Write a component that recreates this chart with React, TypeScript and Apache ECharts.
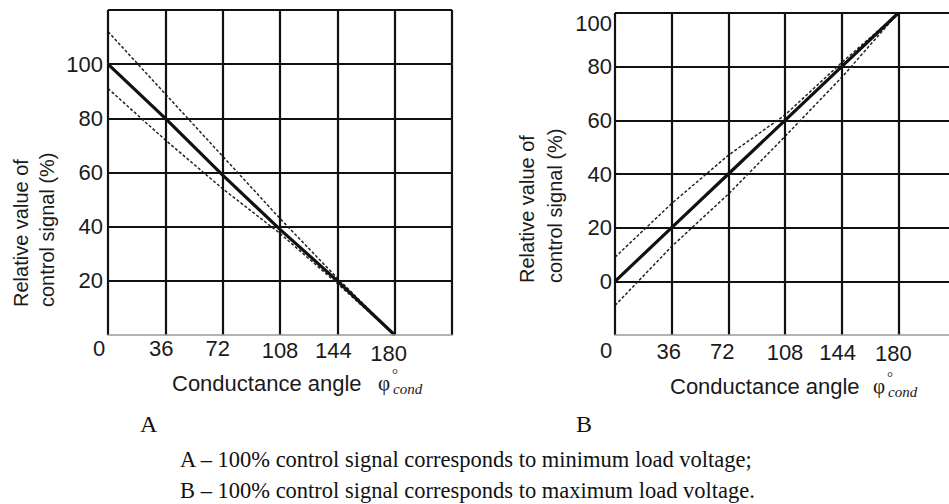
import React, { useEffect, useRef } from 'react';
import * as echarts from 'echarts';

// Conductance angle (degrees) at which values were read
const angleTicks = [0, 36, 72, 108, 144, 180];
// Chart A: 100% control signal -> minimum load voltage
const leftMain = [100, 80, 59, 39, 20, 0];
const leftUpper = [112, 89, 66, 43, 21, 0];
const leftLower = [91, 72, 54, 37.5, 19, 0];
// Chart B: 100% control signal -> maximum load voltage
const rightMain = [0, 20, 40, 60, 80, 100];
const rightUpper = [9, 29, 47, 62, 81.5, 100];
const rightLower = [-9, 13, 32.5, 54, 76, 100];
// Tick labels shown on the value axes
const leftYLabels = [20, 40, 60, 80, 100];
const rightYLabels = [0, 20, 40, 60, 80, 100];

const SANS = "'Liberation Sans', Arial, sans-serif";
const SERIF = "'Liberation Serif', 'Times New Roman', serif";

const zip = (xs: number[], ys: number[]) => xs.map((x, i) => [x, ys[i]]);

// per-label nudges (padding in px) for x tick labels: [top, right]
const xNudge: Record<number, [number, number]> = {
  0: [3, 18],
  36: [3, 8],
  72: [3, 10],
  108: [8, 0],
  144: [8, 8],
  180: [13, 12],
};
const xNudgeR: Record<number, [number, number]> = {
  0: [7, 18],
  36: [9, 6],
  72: [9, 12],
  108: [12, 0],
  144: [12, 8],
  180: [14, 10],
};

function xAxisFor(gridIndex: number, nudge: Record<number, [number, number]>) {
  const rich: Record<string, any> = {};
  angleTicks.forEach((t) => {
    rich['l' + t] = {
      fontSize: 22,
      fontFamily: SANS,
      color: '#1a1a1a',
      lineHeight: 23,
      padding: [nudge[t][0], nudge[t][1], 0, 0],
    };
  });
  return {
    type: 'value',
    gridIndex,
    min: 0,
    max: 216,
    interval: 36,
    z: 5,
    axisLine: { show: true, onZero: false, lineStyle: { color: '#9a9a9a', width: 1.5 } },
    axisTick: { show: false },
    splitLine: { show: true, lineStyle: { color: '#111', width: 2.2 } },
    axisLabel: {
      margin: 0,
      formatter: (v: number) => (angleTicks.includes(v) ? `{l${v}|${v}}` : ''),
      rich,
    },
  };
}

function yAxisFor(gridIndex: number, min: number, max: number, labels: number[], topShift: number) {
  return {
    type: 'value',
    gridIndex,
    min,
    max,
    interval: 20,
    axisLine: { show: false },
    axisTick: { show: false },
    splitLine: { show: true, showMinLine: false, lineStyle: { color: '#111', width: 2 } },
    axisLabel: {
      margin: gridIndex === 0 ? 5 : 3,
      formatter: (v: number) =>
        labels.includes(v) ? (v === 100 && topShift ? `{t|${v}}` : `{n|${v}}`) : '',
      rich: {
        n: { fontSize: 22, fontFamily: SANS, color: '#1a1a1a' },
        t: { fontSize: 22, fontFamily: SANS, color: '#1a1a1a', padding: [topShift, 0, 0, 0] },
      },
    },
  };
}

const solid = { color: '#111', width: 3.2 };
const dashed = { color: '#222', width: 1.5, type: [3, 2] as number[] };

function lineSeries(x: number, data: number[], style: any, z: number) {
  return {
    type: 'line',
    xAxisIndex: x,
    yAxisIndex: x,
    data: zip(angleTicks, data),
    symbol: 'none',
    z,
    lineStyle: style,
    silent: true,
  };
}

function yTitle(x1: number, x2: number, yBottom: number) {
  return [
    {
      type: 'text',
      x: x1,
      y: yBottom,
      rotation: Math.PI / 2,
      style: { text: 'Relative value of', font: `20px ${SANS}`, fill: '#1a1a1a', align: 'left', verticalAlign: 'middle' },
    },
    {
      type: 'text',
      x: x2,
      y: yBottom,
      rotation: Math.PI / 2,
      style: { text: 'control signal (%)', font: `20px ${SANS}`, fill: '#1a1a1a', align: 'left', verticalAlign: 'middle' },
    },
  ];
}

function xTitle(x: number, y: number, phiX: number) {
  return [
    {
      type: 'text',
      x,
      y,
      style: { text: 'Conductance angle', font: `22px ${SANS}`, fill: '#1a1a1a', align: 'left', verticalAlign: 'middle' },
    },
    {
      type: 'text',
      x: phiX,
      y: y,
      style: { text: 'φ', font: `21px ${SERIF}`, fill: '#1a1a1a', align: 'left', verticalAlign: 'middle' },
    },
    {
      type: 'text',
      x: phiX + 14,
      y: y - 9,
      style: { text: '°', font: `15px ${SERIF}`, fill: '#1a1a1a', align: 'left', verticalAlign: 'middle' },
    },
    {
      type: 'text',
      x: phiX + 15,
      y: y + 6,
      style: { text: 'cond', font: `italic 15px ${SERIF}`, fill: '#1a1a1a', align: 'left', verticalAlign: 'middle' },
    },
  ];
}

export default function App() {
  const ref = useRef<HTMLDivElement>(null);
  useEffect(() => {
    if (!ref.current) return;
    const chart = echarts.init(ref.current, null, { renderer: 'svg' });
    chart.setOption({
      animation: false,
      backgroundColor: '#ffffff',
      grid: [
        { left: 108, top: 10, right: 497, bottom: 169, outerBoundsMode: 'none', containLabel: false },
        { left: 615, top: 13, right: -6, bottom: 169, outerBoundsMode: 'none', containLabel: false },
      ],
      xAxis: [xAxisFor(0, xNudge), xAxisFor(1, xNudgeR)],
      yAxis: [yAxisFor(0, 0, 120, leftYLabels, 0), yAxisFor(1, -20, 100, rightYLabels, 20)],
      series: [
        lineSeries(0, leftUpper, dashed, 3),
        lineSeries(0, leftLower, dashed, 3),
        lineSeries(0, leftMain, solid, 4),
        lineSeries(1, rightUpper, dashed, 3),
        lineSeries(1, rightLower, dashed, 3),
        lineSeries(1, rightMain, solid, 4),
      ],
      graphic: [
        ...yTitle(21, 47, 307),
        ...yTitle(527, 555, 283),
        ...xTitle(172, 383, 378),
        ...xTitle(670, 386, 873),
        {
          type: 'text',
          x: 140,
          y: 424,
          style: { text: 'A', font: `24px ${SERIF}`, fill: '#111', align: 'left', verticalAlign: 'middle' },
        },
        {
          type: 'text',
          x: 576,
          y: 424,
          style: { text: 'B', font: `24px ${SERIF}`, fill: '#111', align: 'left', verticalAlign: 'middle' },
        },
        {
          type: 'text',
          x: 180,
          y: 459,
          style: {
            text: 'A – 100% control signal corresponds to minimum load voltage;',
            font: `22.5px ${SERIF}`,
            fill: '#111',
            align: 'left',
            verticalAlign: 'middle',
          },
        },
        {
          type: 'text',
          x: 180,
          y: 490,
          style: {
            text: 'B – 100% control signal corresponds to maximum load voltage.',
            font: `22.5px ${SERIF}`,
            fill: '#111',
            align: 'left',
            verticalAlign: 'middle',
          },
        },
      ],
    });
    return () => chart.dispose();
  }, []);
  return (
    <div
      ref={ref}
      style={{ position: 'fixed', left: 0, top: 0, width: 949, height: 504, background: '#fff' }}
    />
  );
}
